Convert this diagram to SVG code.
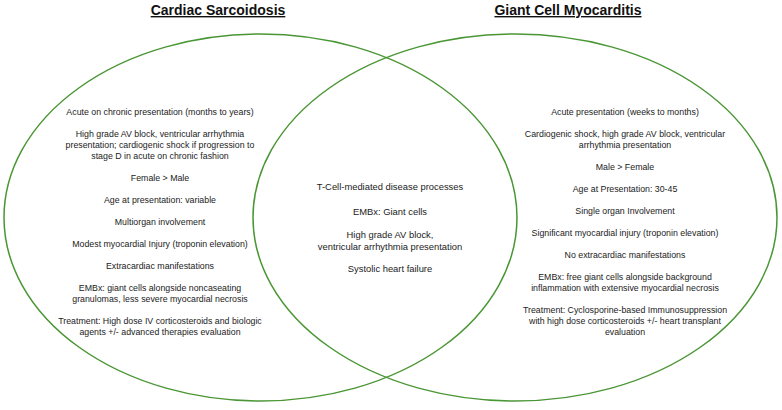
<svg xmlns="http://www.w3.org/2000/svg" width="782" height="410" viewBox="0 0 782 410">
<style>
.c{fill:none;stroke:#4a9634;stroke-width:1.5}
.t{font-family:"Liberation Sans",Arial,sans-serif;font-weight:bold;font-size:14px;fill:#111;text-anchor:middle;text-decoration:underline}
.b{font-family:"Liberation Sans",Arial,sans-serif;font-size:8.8px;fill:#222;text-anchor:middle}
.m{font-family:"Liberation Sans",Arial,sans-serif;font-size:9.4px;fill:#222;text-anchor:middle}
</style>
<rect width="782" height="410" fill="#fff"/>
<g id="cardiac-sarcoidosis">
<ellipse class="c" cx="260.5" cy="217.5" rx="256.5" ry="183.5"/>
<text class="t" x="218" y="15">Cardiac Sarcoidosis</text>
<text class="b" x="160" y="115">Acute on chronic presentation (months to years)</text>
<text class="b" x="160" y="137">High grade AV block, ventricular arrhythmia</text>
<text class="b" x="160" y="148">presentation; cardiogenic shock if progression to</text>
<text class="b" x="160" y="159">stage D in acute on chronic fashion</text>
<text class="b" x="160" y="181">Female &gt; Male</text>
<text class="b" x="160" y="203">Age at presentation: variable</text>
<text class="b" x="160" y="225">Multiorgan involvement</text>
<text class="b" x="160" y="247">Modest myocardial Injury (troponin elevation)</text>
<text class="b" x="160" y="269">Extracardiac manifestations</text>
<text class="b" x="160" y="291">EMBx: giant cells alongside noncaseating</text>
<text class="b" x="160" y="302">granulomas, less severe myocardial necrosis</text>
<text class="b" x="160" y="324">Treatment: High dose IV corticosteroids and biologic</text>
<text class="b" x="160" y="335">agents +/- advanced therapies evaluation</text>
</g>
<g id="giant-cell-myocarditis">
<ellipse class="c" cx="515" cy="217.5" rx="262" ry="183.5"/>
<text class="t" x="568" y="15">Giant Cell Myocarditis</text>
<text class="b" x="625" y="115">Acute presentation (weeks to months)</text>
<text class="b" x="625" y="137">Cardiogenic shock, high grade AV block, ventricular</text>
<text class="b" x="625" y="148">arrhythmia presentation</text>
<text class="b" x="625" y="170">Male &gt; Female</text>
<text class="b" x="625" y="192">Age at Presentation: 30-45</text>
<text class="b" x="625" y="214">Single organ Involvement</text>
<text class="b" x="625" y="236">Significant myocardial injury (troponin elevation)</text>
<text class="b" x="625" y="258">No extracardiac manifestations</text>
<text class="b" x="625" y="280">EMBx: free giant cells alongside background</text>
<text class="b" x="625" y="291">inflammation with extensive myocardial necrosis</text>
<text class="b" x="625" y="313">Treatment: Cyclosporine-based Immunosuppression</text>
<text class="b" x="625" y="324">with high dose corticosteroids +/- heart transplant</text>
<text class="b" x="625" y="335">evaluation</text>
</g>
<g id="overlap">
<text class="m" x="390" y="190">T-Cell-mediated disease processes</text>
<text class="m" x="390" y="215">EMBx: Giant cells</text>
<text class="m" x="390" y="238">High grade AV block,</text>
<text class="m" x="390" y="250">ventricular arrhythmia presentation</text>
<text class="m" x="390" y="272">Systolic heart failure</text>
</g>
</svg>
